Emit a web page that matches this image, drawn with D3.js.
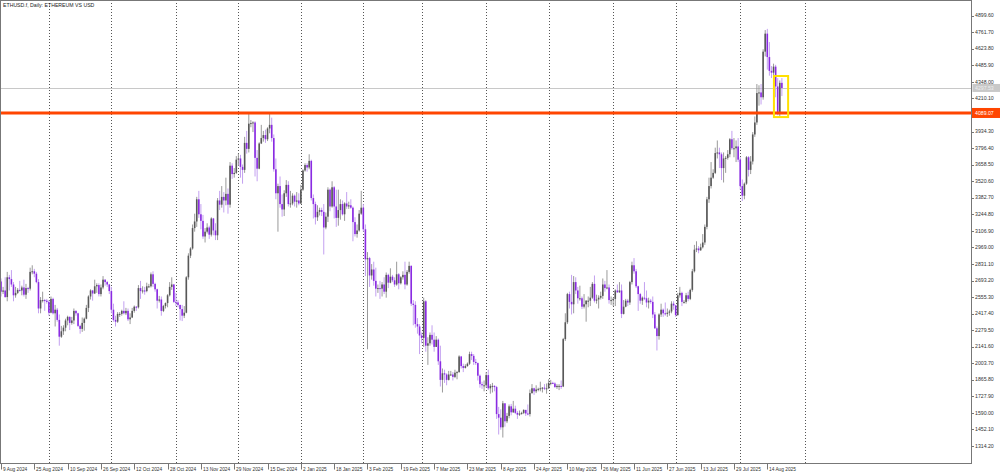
<!DOCTYPE html>
<html><head><meta charset="utf-8">
<script src="https://cdn.jsdelivr.net/npm/d3@7"></script>
<style>body{margin:0;background:#fff}svg{display:block}text{font-family:"Liberation Sans",Arial,sans-serif}</style>
</head><body><div id="chart"></div>
<script>
const title = "ETHUSD.f, Daily:  ETHEREUM VS USD";
const startDate = "2024-08-09";
const skippedDays = ["2024-12-25", "2025-01-01"];

// Daily candles [open, high, low, close]
const aug2024 = [[2685,2710,2560,2600],[2600,2640,2580,2610],[2610,2720,2550,2555],[2555,2765,2520,2720],[2720,2740,2610,2705],[2705,2780,2640,2660],[2660,2680,2520,2570],[2570,2640,2550,2590],[2590,2630,2580,2615],[2615,2690,2600,2610],[2610,2650,2570,2635],[2635,2700,2560,2575],[2575,2665,2540,2630],[2630,2640,2590,2625],[2625,2800,2610,2765],[2765,2820,2745,2770],[2770,2790,2720,2750],[2750,2765,2670,2680],[2680,2705,2420,2460],[2460,2555,2420,2530],[2530,2600,2510,2530],[2530,2540,2440,2525],[2525,2540,2500,2515]];
const sep2024 = [[2515,2530,2400,2425],[2425,2560,2420,2540],[2540,2550,2410,2420],[2420,2490,2310,2450],[2450,2465,2350,2365],[2365,2410,2150,2225],[2225,2315,2215,2270],[2270,2320,2240,2300],[2300,2375,2270,2360],[2360,2400,2320,2390],[2390,2395,2280,2340],[2340,2390,2325,2360],[2360,2460,2330,2440],[2440,2445,2400,2420],[2420,2425,2305,2315],[2315,2325,2250,2290],[2290,2385,2265,2340],[2340,2385,2275,2375],[2375,2490,2370,2465],[2465,2570,2430,2560],[2560,2620,2535,2610],[2610,2615,2525,2585],[2585,2700,2580,2645],[2645,2670,2590,2655],[2655,2670,2560,2580],[2580,2660,2560,2635],[2635,2730,2620,2700],[2700,2705,2650,2680],[2680,2690,2640,2660],[2660,2665,2580,2605]];
const oct2024 = [[2605,2640,2420,2450],[2450,2500,2350,2365],[2365,2400,2310,2350],[2350,2430,2340,2415],[2415,2430,2390,2415],[2415,2450,2400,2440],[2440,2520,2410,2420],[2420,2465,2405,2440],[2440,2460,2355,2370],[2370,2420,2330,2385],[2385,2465,2380,2440],[2440,2485,2425,2475],[2475,2480,2440,2470],[2470,2655,2460,2630],[2630,2690,2540,2605],[2605,2645,2585,2610],[2610,2640,2575,2605],[2605,2675,2595,2645],[2645,2665,2630,2645],[2645,2760,2635,2745],[2745,2770,2640,2665],[2665,2675,2600,2620],[2620,2625,2460,2525],[2525,2565,2510,2535],[2535,2560,2400,2440],[2440,2490,2430,2480],[2480,2510,2460,2505],[2505,2580,2470,2570],[2570,2680,2560,2640],[2640,2720,2615,2660],[2660,2665,2505,2515]];
const nov2024 = [[2515,2590,2480,2510],[2510,2530,2470,2490],[2490,2490,2360,2455],[2455,2490,2355,2400],[2400,2480,2380,2425],[2425,2730,2420,2720],[2720,2920,2700,2900],[2900,2970,2880,2960],[2960,3160,2950,3130],[3130,3250,3100,3185],[3185,3390,3140,3370],[3370,3440,3215,3245],[3245,3330,3120,3190],[3190,3240,3040,3060],[3060,3130,3010,3100],[3100,3170,3085,3135],[3135,3150,3040,3075],[3075,3220,3060,3210],[3210,3215,3070,3110],[3110,3170,3030,3070],[3070,3380,3030,3360],[3360,3440,3280,3325],[3325,3480,3300,3390],[3390,3430,3260,3360],[3360,3550,3320,3415],[3415,3460,3250,3325],[3325,3680,3300,3650],[3650,3670,3540,3580],[3580,3630,3550,3590],[3590,3730,3580,3700]];
const dec2024 = [[3700,3750,3650,3710],[3710,3740,3550,3640],[3640,3660,3500,3615],[3615,3890,3590,3840],[3840,3940,3750,3790],[3790,4090,3760,4000],[4000,4030,3970,4005],[4005,4020,3930,4010],[4010,4020,3560,3715],[3715,3780,3520,3625],[3625,3845,3620,3835],[3835,3990,3830,3880],[3880,3940,3850,3905],[3905,3950,3840,3870],[3870,3970,3855,3960],[3960,4090,3920,3990],[3990,4050,3850,3880],[3880,3910,3600,3620],[3620,3710,3370,3420],[3420,3500,3100,3480],[3480,3560,3300,3330],[3330,3410,3225,3285],[3285,3445,3230,3420],[3420,3530,3390,3490],[3490,3520,3310,3330],[3330,3440,3300,3335],[3335,3420,3320,3400],[3400,3410,3310,3350],[3350,3430,3300,3360],[3360,3420,3320,3335]];
const jan2025 = [[3335,3490,3330,3450],[3450,3620,3440,3610],[3610,3670,3600,3655],[3655,3670,3600,3635],[3635,3745,3620,3690],[3690,3700,3360,3380],[3380,3410,3210,3330],[3330,3350,3160,3220],[3220,3320,3190,3265],[3265,3300,3235,3280],[3280,3300,3230,3265],[3265,3330,2910,3135],[3135,3260,3120,3225],[3225,3470,3180,3450],[3450,3460,3270,3310],[3310,3520,3300,3470],[3470,3480,3210,3310],[3310,3450,3140,3215],[3215,3450,3150,3280],[3280,3370,3200,3330],[3330,3360,3235,3245],[3245,3345,3190,3335],[3335,3430,3290,3310],[3310,3350,3290,3320],[3320,3370,3290,3300],[3300,3310,3020,3180],[3180,3220,3060,3080],[3080,3160,3050,3110],[3110,3280,3100,3250],[3250,3440,3240,3300]];
const feb2025 = [[3300,3330,3100,3120],[3120,3160,2730,2870],[2870,2930,2120,2880],[2880,2890,2640,2735],[2735,2830,2700,2785],[2785,2850,2650,2690],[2690,2800,2560,2625],[2625,2660,2590,2630],[2630,2690,2540,2625],[2625,2680,2560,2660],[2660,2720,2580,2600],[2600,2760,2550,2740],[2740,2750,2630,2675],[2675,2795,2670,2725],[2725,2740,2680,2695],[2695,2720,2640,2660],[2660,2850,2650,2745],[2745,2755,2620,2670],[2670,2730,2660,2720],[2720,2770,2700,2740],[2740,2850,2620,2660],[2660,2780,2650,2765],[2765,2850,2750,2815],[2815,2820,2480,2500],[2500,2530,2320,2490],[2490,2520,2300,2330],[2330,2380,2250,2310],[2310,2330,2080,2235]];
const mar2025 = [[2235,2260,2170,2215],[2215,2550,2140,2520],[2520,2530,2100,2150],[2150,2220,1990,2170],[2170,2260,2150,2240],[2240,2320,2160,2200],[2200,2260,2100,2140],[2140,2230,2140,2200],[2200,2210,1990,2020],[2020,2150,1810,1865],[1865,1960,1760,1920],[1920,1950,1840,1910],[1910,1920,1820,1865],[1865,1940,1860,1910],[1910,1940,1900,1910],[1910,1930,1860,1890],[1890,1950,1880,1925],[1925,1940,1870,1930],[1930,2070,1925,2060],[2060,2065,1960,1980],[1980,2000,1930,1965],[1965,1995,1960,1980],[1980,2010,1975,2000],[2000,2100,1990,2080],[2080,2100,2030,2065],[2065,2080,1990,2015],[2015,2040,1990,2005],[2005,2010,1860,1900],[1900,1910,1800,1830],[1830,1850,1790,1820],[1820,1860,1770,1820]];
const apr2025 = [[1820,1930,1800,1905],[1905,1950,1780,1795],[1795,1830,1750,1815],[1815,1840,1760,1815],[1815,1820,1770,1805],[1805,1815,1540,1580],[1580,1640,1410,1550],[1550,1620,1450,1470],[1470,1690,1385,1670],[1670,1670,1475,1520],[1520,1590,1505,1565],[1565,1660,1545,1645],[1645,1665,1570,1595],[1595,1690,1590,1625],[1625,1650,1580,1590],[1590,1605,1540,1575],[1575,1610,1565,1585],[1585,1600,1575,1590],[1590,1620,1580,1615],[1615,1615,1565,1585],[1585,1660,1570,1580],[1580,1785,1560,1755],[1755,1830,1750,1795],[1795,1800,1740,1770],[1770,1820,1755,1785],[1785,1800,1770,1790],[1790,1850,1770,1795],[1795,1805,1760,1800],[1800,1830,1780,1795],[1795,1835,1750,1795]];
const may2025 = [[1795,1870,1790,1840],[1840,1865,1820,1840],[1840,1850,1830,1835],[1835,1845,1800,1805],[1805,1830,1790,1815],[1815,1830,1780,1815],[1815,1860,1790,1810],[1810,2215,1805,2205],[2205,2420,2190,2345],[2345,2590,2330,2580],[2580,2600,2460,2515],[2515,2740,2410,2495],[2495,2730,2420,2680],[2680,2720,2580,2610],[2610,2640,2500,2545],[2545,2650,2525,2545],[2545,2560,2455,2475],[2475,2580,2460,2495],[2495,2530,2350,2525],[2525,2560,2470,2525],[2525,2640,2480,2550],[2550,2680,2540,2665],[2665,2735,2510,2525],[2525,2575,2500,2535],[2535,2570,2460,2550],[2550,2600,2535,2565],[2565,2710,2540,2660],[2660,2690,2600,2630],[2630,2780,2620,2635],[2635,2660,2500,2530],[2530,2560,2490,2530]];
const jun2025 = [[2530,2550,2480,2540],[2540,2620,2480,2610],[2610,2660,2590,2595],[2595,2680,2590,2610],[2610,2660,2380,2415],[2415,2530,2410,2475],[2475,2540,2470,2525],[2525,2540,2480,2510],[2510,2690,2490,2680],[2680,2850,2660,2820],[2820,2880,2750,2770],[2770,2790,2630,2645],[2645,2650,2440,2580],[2580,2590,2500,2525],[2525,2560,2490,2550],[2550,2680,2530,2545],[2545,2610,2470,2510],[2510,2550,2460,2525],[2525,2540,2500,2515],[2515,2560,2380,2410],[2410,2430,2290,2295],[2295,2310,2110,2230],[2230,2420,2200,2410],[2410,2500,2390,2450],[2450,2460,2390,2420],[2420,2510,2400,2415],[2415,2460,2390,2425],[2425,2450,2400,2435],[2435,2520,2420,2500],[2500,2520,2450,2485]];
const jul2025 = [[2485,2490,2390,2405],[2405,2590,2400,2570],[2570,2640,2550,2590],[2590,2600,2480,2515],[2515,2530,2500,2515],[2515,2590,2500,2570],[2570,2600,2520,2540],[2540,2625,2530,2615],[2615,2790,2600,2770],[2770,2990,2760,2950],[2950,3020,2930,2960],[2960,2980,2920,2945],[2945,3000,2940,2970],[2970,3080,2960,3010],[3010,3160,2990,3140],[3140,3390,3120,3370],[3370,3550,3340,3480],[3480,3680,3460,3550],[3550,3620,3540,3590],[3590,3800,3580,3755],[3755,3860,3710,3760],[3760,3800,3630,3745],[3745,3760,3530,3630],[3630,3760,3510,3710],[3710,3730,3590,3715],[3715,3780,3700,3745],[3745,3880,3720,3870],[3870,3940,3780,3795],[3795,3880,3720,3795],[3795,3860,3680,3810],[3810,3880,3680,3700]];
const aug2025 = [[3700,3720,3450,3480],[3480,3535,3355,3400],[3400,3510,3370,3500],[3500,3730,3490,3720],[3720,3730,3560,3615],[3615,3730,3580,3685],[3685,3930,3660,3910],[3910,4060,3890,4010],[4010,4330,3990,4255],[4255,4320,4150,4260],[4260,4330,4160,4220],[4220,4620,4200,4600],[4600,4780,4560,4750],[4750,4790,4450,4555],[4555,4680,4400,4440],[4440,4480,4380,4425],[4425,4500,4400,4475],[4475,4490,4220,4310],[4310,4380,4070,4080],[4080,4360,4060,4340],[4340,4380,4230,4297]];

const priceTicks = [4899.60,4761.70,4623.80,4485.90,4348.00,4210.10,3934.30,3796.40,3658.50,3520.60,3382.70,3244.80,3106.90,2969.00,2831.10,2693.20,2555.30,2417.40,2279.50,2141.60,2003.70,1865.80,1727.90,1590.00,1452.10,1314.20];
const dateTickLabels = ["9 Aug 2024","25 Aug 2024","10 Sep 2024","26 Sep 2024","12 Oct 2024","28 Oct 2024","13 Nov 2024","29 Nov 2024","15 Dec 2024","2 Jan 2025","18 Jan 2025","3 Feb 2025","19 Feb 2025","7 Mar 2025","23 Mar 2025","8 Apr 2025","24 Apr 2025","10 May 2025","26 May 2025","11 Jun 2025","27 Jun 2025","13 Jul 2025","29 Jul 2025","14 Aug 2025"];
const gridMonths = ["2024-09-01","2024-10-01","2024-11-01","2024-12-01","2025-01-01","2025-02-01","2025-03-01","2025-04-01","2025-05-01","2025-06-01","2025-07-01","2025-08-01","2025-09-01"];
const levelPrice = 4089.07;
const bidPrice = 4297.53;
const boxDates = ["2025-08-18", "2025-08-24"];
const boxPrices = [4397, 4055];

const W = 1000, H = 476, plotR = 971.5, plotB = 463.5;
const rows = [].concat(aug2024, sep2024, oct2024, nov2024, dec2024, jan2025, feb2025, mar2025, apr2025, may2025, jun2025, jul2025, aug2025);

const parse = d3.utcParse("%Y-%m-%d");
const start = parse(startDate);
const skipped = skippedDays.map(parse);
function barIndex(date) {
  const days = Math.round((date - start) / 864e5);
  const skips = skipped.filter(s => s < date).length;
  return days - skips;
}
const dates = [];
for (let d = new Date(start); dates.length < rows.length; d = d3.utcDay.offset(d, 1)) {
  if (!skipped.some(s => +s === +d)) dates.push(new Date(d));
}
const bars = rows.map((r, i) => ({i, date: dates[i], o: r[0], h: r[1], l: r[2], c: r[3]}));

const x = d3.scaleLinear().domain([0, 368]).range([1, 767.3]);
const y = d3.scaleLinear().domain([1314.2, 4899.6]).range([446, 15.7]);

const svg = d3.select("#chart").append("svg").attr("width", W).attr("height", H);
svg.append("rect").attr("width", W).attr("height", H).attr("fill", "#fff");
svg.append("clipPath").attr("id", "clip").append("rect").attr("x", 0).attr("y", 0).attr("width", plotR).attr("height", plotB);
const plot = svg.append("g").attr("clip-path", "url(#clip)");

// month grid lines
plot.selectAll(".grid").data(gridMonths).join("line")
  .attr("x1", d => Math.round(x(barIndex(parse(d)))) + 0.5)
  .attr("x2", d => Math.round(x(barIndex(parse(d)))) + 0.5)
  .attr("y1", 0).attr("y2", plotB)
  .attr("stroke", "#555").attr("stroke-width", 1).attr("stroke-dasharray", "1,2");

// bid line
plot.append("line").attr("x1", 0).attr("x2", plotR).attr("y1", Math.round(y(bidPrice)) + 0.5).attr("y2", Math.round(y(bidPrice)) + 0.5)
  .attr("stroke", "#c8c8c8").attr("stroke-width", 1);

const bullWick = "#9a9a9a", bullBody = "#585858", bearWick = "#c3a0f0", bearBody = "#8a2be2";
plot.selectAll(".wick").data(bars).join("line")
  .attr("x1", d => x(d.i)).attr("x2", d => x(d.i))
  .attr("y1", d => y(Math.max(d.h, d.o, d.c))).attr("y2", d => y(Math.min(d.l, d.o, d.c)))
  .attr("stroke", d => d.c >= d.o ? bullWick : bearWick).attr("stroke-width", 1);
plot.selectAll(".body").data(bars).join("rect")
  .attr("x", d => x(d.i) - 0.8).attr("width", 1.6)
  .attr("y", d => y(Math.max(d.o, d.c)))
  .attr("height", d => Math.max(1, Math.abs(y(d.o) - y(d.c))))
  .attr("fill", d => d.c >= d.o ? bullBody : bearBody);

// level line
plot.append("line").attr("x1", 0).attr("x2", plotR).attr("y1", y(levelPrice)).attr("y2", y(levelPrice))
  .attr("stroke", "#ff4500").attr("stroke-width", 3);

// yellow box
const bx0 = x(barIndex(parse(boxDates[0]))) - 1.7, bx1 = x(barIndex(parse(boxDates[1])));
plot.append("rect").attr("x", bx0).attr("y", y(boxPrices[0])).attr("width", bx1 - bx0).attr("height", y(boxPrices[1]) - y(boxPrices[0]))
  .attr("fill", "none").attr("stroke", "#ffe000").attr("stroke-width", 2);

// frame
svg.append("rect").attr("x", 0.5).attr("y", 0.5).attr("width", plotR - 0.5).attr("height", plotB - 0.5)
  .attr("fill", "none").attr("stroke", "#777").attr("stroke-width", 1);

// title
svg.append("text").attr("x", 3).attr("y", 5.5).attr("dominant-baseline", "middle")
  .attr("font-size", 5.2).attr("fill", "#222").text(title);

// right price axis
const ya = svg.append("g");
ya.selectAll("line").data(priceTicks).join("line")
  .attr("x1", plotR).attr("x2", plotR + 2.5).attr("y1", d => Math.round(y(d)) + 0.5).attr("y2", d => Math.round(y(d)) + 0.5)
  .attr("stroke", "#777");
ya.selectAll("text").data(priceTicks).join("text")
  .attr("x", plotR + 3.5).attr("y", d => y(d) + 0.3).attr("dominant-baseline", "middle")
  .attr("font-size", 5.2).attr("fill", "#333").text(d => d.toFixed(2));

// bid label
ya.append("rect").attr("x", plotR + 1).attr("y", y(bidPrice) - 4).attr("width", 28).attr("height", 8).attr("fill", "#c8c8c8");
ya.append("text").attr("x", plotR + 3.5).attr("y", y(bidPrice) + 0.3).attr("dominant-baseline", "middle")
  .attr("font-size", 5.2).attr("fill", "#eee").text(bidPrice.toFixed(2));
// level label
ya.append("rect").attr("x", plotR + 0.5).attr("y", y(levelPrice) - 5).attr("width", 28.5).attr("height", 10).attr("fill", "#ff4500");
ya.append("text").attr("x", plotR + 3.5).attr("y", y(levelPrice) + 0.3).attr("dominant-baseline", "middle")
  .attr("font-size", 5.2).attr("fill", "#fff").text(levelPrice.toFixed(2));

// bottom date axis
const fmt = d3.utcFormat("%-d %b %Y");
const dateTicks = dateTickLabels.map(lbl => ({lbl, i: dates.findIndex(d => fmt(d) === lbl)}));
const xa = svg.append("g");
xa.selectAll("line").data(dateTicks).join("line")
  .attr("x1", d => Math.round(x(d.i)) + 0.5).attr("x2", d => Math.round(x(d.i)) + 0.5)
  .attr("y1", plotB).attr("y2", plotB + 6).attr("stroke", "#777");
xa.selectAll("text").data(dateTicks).join("text")
  .attr("x", d => Math.round(x(d.i)) + 2).attr("y", plotB + 6.5).attr("dominant-baseline", "middle")
  .attr("font-size", 4.8).attr("fill", "#333").text(d => d.lbl);
</script></body></html>
